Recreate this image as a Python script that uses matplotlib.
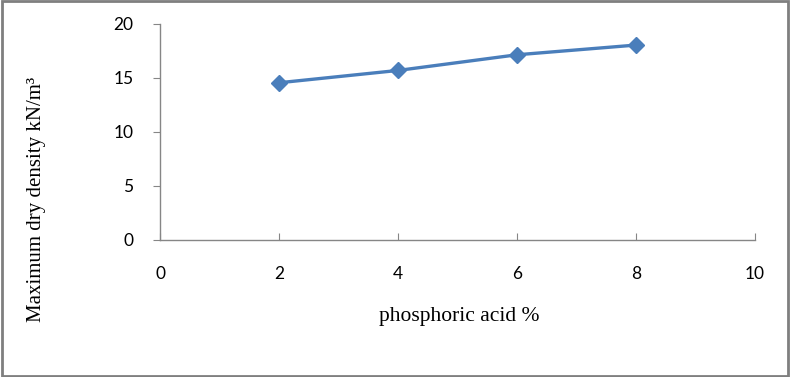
import matplotlib.pyplot as plt
from matplotlib.patches import Rectangle

acid = [2, 4, 6, 8]
density = [14.56, 15.7, 17.15, 18.05]
x_ticks = [0, 2, 4, 6, 8, 10]
y_ticks = [0, 5, 10, 15, 20]

fig = plt.figure(figsize=(7.9, 3.77), dpi=100)
ax = fig.add_axes([160/790, 137/377, 595/790, 216/377])

ax.plot(acid, density, color='#4a7ebb', linewidth=2.4, marker='D',
        markersize=8, markerfacecolor='#4a7ebb', markeredgecolor='#4a7ebb')

ax.set_xlim(0, 10)
ax.set_ylim(0, 20)
ax.set_xticks(x_ticks)
ax.set_yticks(y_ticks)
for s in ['top', 'right']:
    ax.spines[s].set_visible(False)
for s in ['left', 'bottom']:
    ax.spines[s].set_color('#868686')
    ax.spines[s].set_linewidth(1)
ax.tick_params(axis='x', direction='in', length=5, color='#868686', pad=19)
ax.tick_params(axis='y', direction='out', length=5, color='#868686', pad=14)
for lab in ax.get_xticklabels() + ax.get_yticklabels():
    lab.set_family('Lato')
    lab.set_fontsize(12.5)

fig.text(459/790, 1 - 316/377, 'phosphoric acid %', family='Liberation Serif',
         fontsize=15.5, ha='center', va='center')
fig.text(37/790, 1 - 199/377, 'Maximum dry density kN/m³', family='Liberation Serif',
         fontsize=15, ha='center', va='center', rotation=90)

fig.patches.append(Rectangle((0.002, 0.003), 0.995, 0.994, transform=fig.transFigure,
                             fill=False, edgecolor='#7f7f7f', linewidth=2))

plt.savefig('out.png', dpi=100)
